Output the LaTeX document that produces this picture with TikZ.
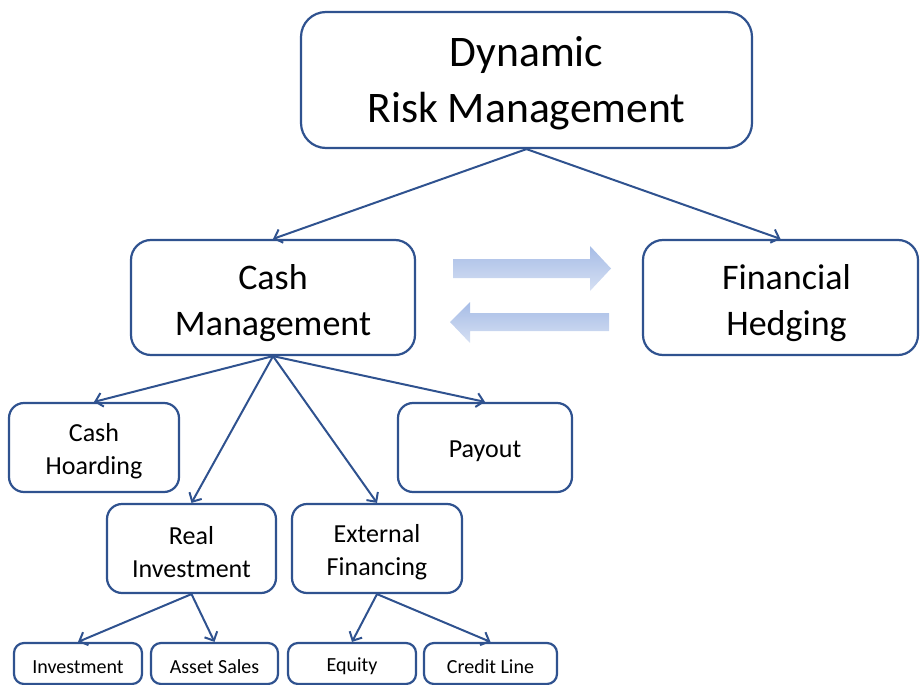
\documentclass[tikz,border=0pt]{standalone}
\usepackage{fontspec}
\setmainfont{Carlito}
\usetikzlibrary{arrows.meta}
\definecolor{edgeblue}{RGB}{47,82,143}
\definecolor{arrtop}{RGB}{166,188,230}
\definecolor{arrbot}{RGB}{214,224,243}
\newcommand{\sx}[1]{\rule{0pt}{#1em}}
\begin{document}
\begin{tikzpicture}[x=1pt,y=-1pt,
  box/.style={draw=edgeblue, line width=2.2pt, rounded corners=#1, align=center, inner sep=0pt, fill=white, text=black},
  box/.default=15pt,
  hugefont/.style={font=\fontsize{43.6}{56}\selectfont},
  bigfont/.style={font=\fontsize{36}{46}\selectfont},
  midfont/.style={font=\fontsize{26}{33}\selectfont},
  smallfont/.style={font=\fontsize{20}{24}\selectfont},
  conn/.style={draw=edgeblue, line width=2pt, -{Straight Barb[length=7pt,width=14pt,line width=2pt]}},
  blockarrow/.style={top color=arrtop, bottom color=arrbot, draw=none}
]
\useasboundingbox (0,0) rectangle (921,685);

% top
\node[box=25pt, hugefont, minimum width=451pt, minimum height=136pt] (drm) at (526.5,80) {\sx{0.85}Dynamic\\Risk Management};

% second level
\node[box=20pt, bigfont, minimum width=284pt, minimum height=115pt] (cm) at (273,297.5) {\sx{0.98}Cash\\Management};
\node[box=20pt, bigfont, minimum width=275pt, minimum height=115pt] (fh) at (780.5,297.5) {\hspace*{12pt}\sx{0.98}Financial\\\hspace*{12pt}Hedging};

% third level
\node[box=15pt, midfont, minimum width=170pt, minimum height=89pt] (ch) at (94,447.5) {\sx{1.0}Cash\\Hoarding};
\node[box=15pt, midfont, minimum width=174pt, minimum height=89pt] (po) at (485,447.5) {\sx{0.95}Payout};
\node[box=15pt, midfont, minimum width=169pt, minimum height=89pt] (ri) at (191.5,548.5) {\sx{1.0}Real\\Investment};
\node[box=15pt, midfont, minimum width=170pt, minimum height=89pt] (ef) at (377,548.5) {\sx{1.0}External\\Financing};

% bottom level
\node[box=10pt, smallfont, minimum width=128pt, minimum height=41pt] (inv) at (78,663.5) {\sx{0.96}Investment};
\node[box=10pt, smallfont, minimum width=127pt, minimum height=41pt] (as) at (214.5,663.5) {\sx{0.96}Asset Sales};
\node[box=10pt, smallfont, minimum width=128pt, minimum height=41pt] (eq) at (352,663.5) {\sx{0.96}Equity};
\node[box=10pt, smallfont, minimum width=133pt, minimum height=41pt] (cl) at (490.5,663.5) {\sx{0.96}Credit Line};

% connectors
\draw[conn] (drm.south) -- (cm.north);
\draw[conn] (drm.south) -- (fh.north);
\draw[conn] (cm.south) -- (ch.north);
\draw[conn] (cm.south) -- (ri.north);
\draw[conn] (cm.south) -- (ef.north);
\draw[conn] (cm.south) -- (po.north);
\draw[conn] (ri.south) -- (inv.north);
\draw[conn] (ri.south) -- (as.north);
\draw[conn] (ef.south) -- (eq.north);
\draw[conn] (ef.south) -- (cl.north);

% block arrows
\shade[blockarrow] (453,259) -- (590,259) -- (590,246) -- (611,268.5) -- (590,291) -- (590,278) -- (453,278) -- cycle;
\shade[blockarrow] (609,313) -- (470,313) -- (470,302) -- (450,322) -- (470,343) -- (470,331) -- (609,331) -- cycle;
\end{tikzpicture}
\end{document}
